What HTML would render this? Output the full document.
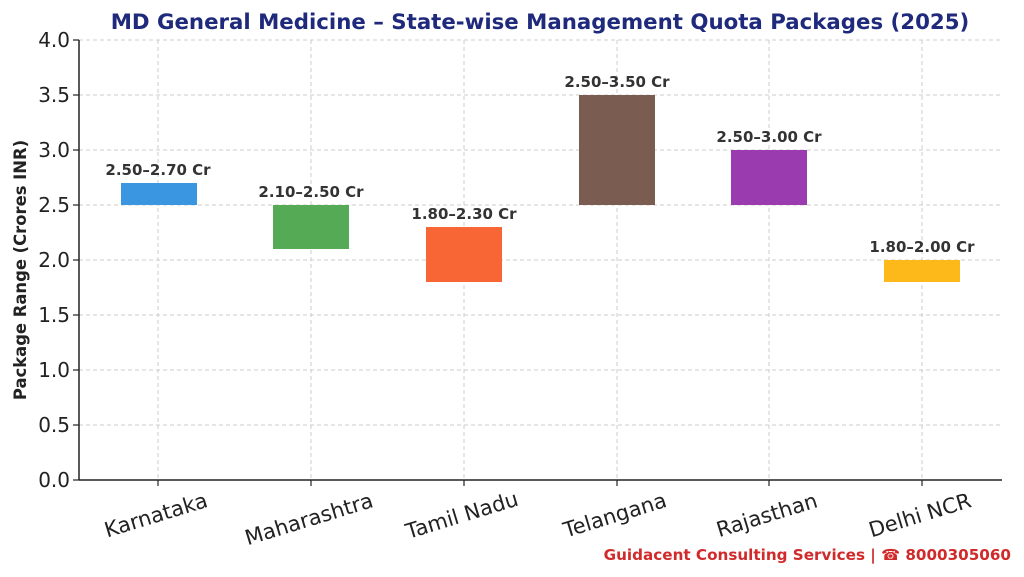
<!DOCTYPE html>
<html><head><meta charset="utf-8"><style>
html,body{margin:0;padding:0;background:#fff}
svg{display:block;font-family:"DejaVu Sans","Liberation Sans",sans-serif}
</style></head><body>
<svg width="1024" height="577" viewBox="0 0 1024 577" xmlns="http://www.w3.org/2000/svg">
<rect width="1024" height="577" fill="#fff"/>
<text x="540" y="29" text-anchor="middle" font-size="21.3" font-weight="bold" fill="#1f2a7c">MD General Medicine – State-wise Management Quota Packages (2025)</text>
<g stroke="#cccccc" stroke-width="1" stroke-dasharray="4,3">
<line x1="79" x2="1002" y1="40" y2="40"/><line x1="79" x2="1002" y1="95" y2="95"/>
<line x1="79" x2="1002" y1="150" y2="150"/><line x1="79" x2="1002" y1="205" y2="205"/>
<line x1="79" x2="1002" y1="260" y2="260"/><line x1="79" x2="1002" y1="315" y2="315"/>
<line x1="79" x2="1002" y1="370" y2="370"/><line x1="79" x2="1002" y1="425" y2="425"/>
<line x1="158" x2="158" y1="40" y2="480"/><line x1="311" x2="311" y1="40" y2="480"/>
<line x1="464" x2="464" y1="40" y2="480"/><line x1="617" x2="617" y1="40" y2="480"/>
<line x1="769" x2="769" y1="40" y2="480"/><line x1="922" x2="922" y1="40" y2="480"/>
</g>
<rect x="121" y="183" width="76" height="22" fill="#3a96e0"/>
<rect x="273" y="205" width="76" height="44" fill="#55aa55"/>
<rect x="426" y="227" width="76" height="55" fill="#f76634"/>
<rect x="579" y="95" width="76" height="110" fill="#7b5c50"/>
<rect x="731" y="150" width="76" height="55" fill="#9a3bb0"/>
<rect x="884" y="260" width="76" height="22" fill="#fdb91a"/>
<g font-size="15" font-weight="bold" fill="#333" text-anchor="middle">
<text x="158" y="175">2.50–2.70 Cr</text><text x="311" y="197">2.10–2.50 Cr</text>
<text x="464" y="219">1.80–2.30 Cr</text><text x="617" y="87">2.50–3.50 Cr</text>
<text x="769" y="142">2.50–3.00 Cr</text><text x="922" y="252">1.80–2.00 Cr</text>
</g>
<line x1="79" y1="40" x2="79" y2="480" stroke="#222" stroke-width="1.5"/>
<line x1="79" y1="480" x2="1002" y2="480" stroke="#222" stroke-width="1.5"/>
<g stroke="#222" stroke-width="1.2">
<line x1="73" x2="79" y1="40" y2="40"/><line x1="73" x2="79" y1="95" y2="95"/><line x1="73" x2="79" y1="150" y2="150"/>
<line x1="73" x2="79" y1="205" y2="205"/><line x1="73" x2="79" y1="260" y2="260"/><line x1="73" x2="79" y1="315" y2="315"/>
<line x1="73" x2="79" y1="370" y2="370"/><line x1="73" x2="79" y1="425" y2="425"/><line x1="73" x2="79" y1="480" y2="480"/>
<line x1="158" x2="158" y1="480" y2="486"/><line x1="311" x2="311" y1="480" y2="486"/><line x1="464" x2="464" y1="480" y2="486"/>
<line x1="617" x2="617" y1="480" y2="486"/><line x1="769" x2="769" y1="480" y2="486"/><line x1="922" x2="922" y1="480" y2="486"/>
</g>
<g font-size="20" fill="#222" text-anchor="end">
<text x="70" y="47">4.0</text><text x="70" y="102">3.5</text><text x="70" y="157">3.0</text>
<text x="70" y="212">2.5</text><text x="70" y="267">2.0</text><text x="70" y="322">1.5</text>
<text x="70" y="377">1.0</text><text x="70" y="432">0.5</text><text x="70" y="487">0.0</text>
</g>
<text transform="translate(26,270) rotate(-90)" text-anchor="middle" font-size="16.4" font-weight="bold" fill="#222">Package Range (Crores INR)</text>
<g font-size="21" fill="#222" text-anchor="middle">
<text transform="translate(158,522) rotate(-17)">Karnataka</text>
<text transform="translate(311,526) rotate(-17)">Maharashtra</text>
<text transform="translate(464,522) rotate(-17)">Tamil Nadu</text>
<text transform="translate(617,522) rotate(-17)">Telangana</text>
<text transform="translate(769,522) rotate(-17)">Rajasthan</text>
<text transform="translate(922,522) rotate(-17)">Delhi NCR</text>
</g>
<text x="1011" y="560" text-anchor="end" font-size="15.2" font-weight="bold" fill="#d12a2a">Guidacent Consulting Services | ☎ 8000305060</text>
</svg>
</body></html>
